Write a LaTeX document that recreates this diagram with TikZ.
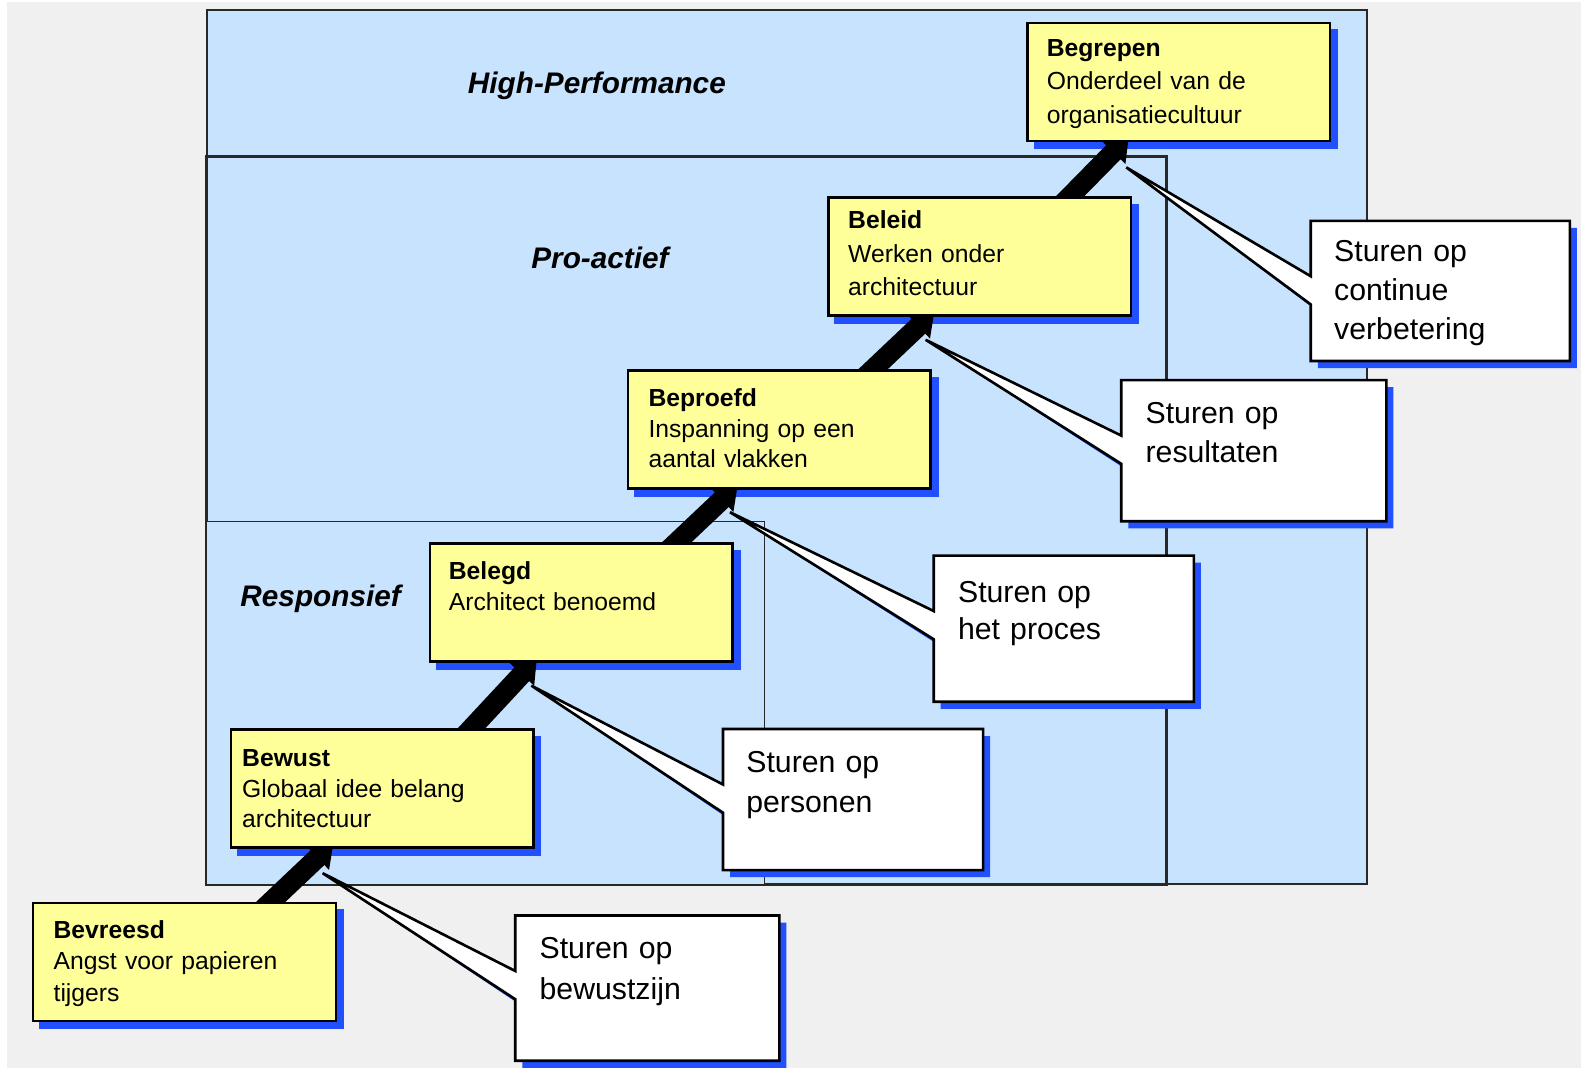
\documentclass[tikz,border=0pt]{standalone}
\usepackage{fontspec}
\setmainfont{Liberation Sans}
\usetikzlibrary{arrows.meta}

\definecolor{pagegray}{RGB}{240,240,240}
\definecolor{zoneblue}{RGB}{200,227,254}
\definecolor{boxyellow}{RGB}{255,255,153}
\definecolor{shadowblue}{RGB}{35,80,255}
\definecolor{framegray}{RGB}{40,40,40}

\tikzset{
  zone/.style={draw=framegray, line width=2, fill=zoneblue},
  zonelabel/.style={inner sep=0, font=\fontsize{29.5}{34}\selectfont\bfseries\itshape},
  level/.style={draw=black, line width=2.4, fill=boxyellow, inner sep=0,
    minimum width=300pt, minimum height=117pt},
  levelshadow/.style={fill=shadowblue, inner sep=0,
    minimum width=302pt, minimum height=119pt},
  leveltext/.style={anchor=base west, inner sep=0, text width=285pt, align=left,
    font=\fontsize{24.5}{#1}\selectfont},
  callout/.style={draw=black, line width=2.6, fill=white, line join=miter},
  calloutshadow/.style={fill=shadowblue},
  callouttext/.style={anchor=base west, inner sep=0, text width=230pt, align=left,
    font=\fontsize{30}{#1}\selectfont},
  stepup/.style={line width=20pt, -{Triangle[width=32pt,length=22pt]}},
}

% callout: name, x1, y1, x2, y2 (box corners), tip coordinate name
\newcommand\talkbox[6]{%
  \fill[calloutshadow, shift={(7,7)}] (#2,#3) -- (#4,#3) -- (#4,#5) -- (#2,#5)
    -- (#2,#3+83) -- (#6) -- (#2,#3+55) -- cycle;
  \draw[callout] (#2,#3) -- (#4,#3) -- (#4,#5) -- (#2,#5)
    -- (#2,#3+83) -- (#6) -- (#2,#3+55) -- cycle;
}

\begin{document}
\begin{tikzpicture}[x=1pt, y=-1pt]
\useasboundingbox (0,0) rectangle (1568,1059);
\fill[white] (0,0) rectangle (1568,1059);
\fill[pagegray] (7,2) rectangle (1568,1059);

% maturity zones
\draw[zone] (205,10) rectangle (1356,877);
\draw[zone, line width=2.6] (205,155) rectangle (1157,877);
\draw[zone, line width=1.2] (205,517) rectangle (758,877);

\node[zonelabel] (hp) at (592,85) {High-Performance};
\node[zonelabel] (pa) at (595,256) {Pro-actief};
\node[zonelabel] (rs) at (318,594) {Responsief};

% shadows of the level boxes
\node[levelshadow] (begrepen-s) at (1176,88.5) {};
\node[levelshadow] (beleid-s) at (978.5,261.5) {};
\node[levelshadow] (beproefd-s) at (780,433) {};
\node[levelshadow] (belegd-s) at (583.5,604.5) {};
\node[levelshadow] (bewust-s) at (386,789) {};
\node[levelshadow] (bevreesd-s) at (190,961) {};

% steps between the levels
\coordinate (s1) at (260.7,901.9);  \coordinate (t1) at (330.8,835.5);
\coordinate (s2) at (460.2,730.3);  \coordinate (t2) at (532.5,652.6);
\coordinate (s3) at (663.7,544.9);  \coordinate (t3) at (731.8,480.5);
\coordinate (s4) at (857.7,373.9);  \coordinate (t4) at (926.8,308.5);
\coordinate (s5) at (1053,203.1);   \coordinate (t5) at (1119.6,135.3);
\draw[stepup] (s1) -- (t1);
\draw[stepup] (s2) -- (t2);
\draw[stepup] (s3) -- (t3);
\draw[stepup] (s4) -- (t4);
\draw[stepup] (s5) -- (t5);

% level boxes
\node[level] (begrepen) at (1169,81.5) {};
\node[level] (beleid) at (971.5,254.5) {};
\node[level] (beproefd) at (773,426) {};
\node[level] (belegd) at (576.5,597.5) {};
\node[level] (bewust) at (379,782) {};
\node[level] (bevreesd) at (183,954) {};

\node[leveltext=33] (begrepen-t) at (1038,56) {\textbf{Begrepen}\\Onderdeel van de\\organisatiecultuur};
\node[leveltext=33] (beleid-t) at (841,227) {\textbf{Beleid}\\Werken onder\\architectuur};
\node[leveltext=30.5] (beproefd-t) at (643,403) {\textbf{Beproefd}\\Inspanning op een\\aantal vlakken};
\node[leveltext=30] (belegd-t) at (445,575) {\textbf{Belegd}\\Architect benoemd};
\node[leveltext=30.5] (bewust-t) at (240,760) {\textbf{Bewust}\\Globaal idee belang\\architectuur};
\node[leveltext=31] (bevreesd-t) at (53,931) {\textbf{Bevreesd}\\Angst voor papieren\\tijgers};

% steering callouts
\coordinate (p1) at (1117,166);
\coordinate (p2) at (918,337);
\coordinate (p3) at (724,508);
\coordinate (p4) at (527,680);
\coordinate (p5) at (320,866);

\talkbox{c1}{1300}{219}{1557}{358}{p1}
\talkbox{c2}{1112}{377}{1375}{517}{p2}
\talkbox{c3}{926}{551}{1184}{696}{p3}
\talkbox{c4}{717}{723}{975}{863}{p4}
\talkbox{c5}{511}{908}{773}{1052}{p5}

\node[callouttext=39] (c1-t) at (1323,259) {Sturen op\\continue\\verbetering};
\node[callouttext=39] (c2-t) at (1136,420) {Sturen op\\resultaten};
\node[callouttext=36] (c3-t) at (950,598) {Sturen op\\het proces};
\node[callouttext=40] (c4-t) at (740,766) {Sturen op\\personen};
\node[callouttext=40] (c5-t) at (535,951) {Sturen op\\bewustzijn};
\end{tikzpicture}
\end{document}
